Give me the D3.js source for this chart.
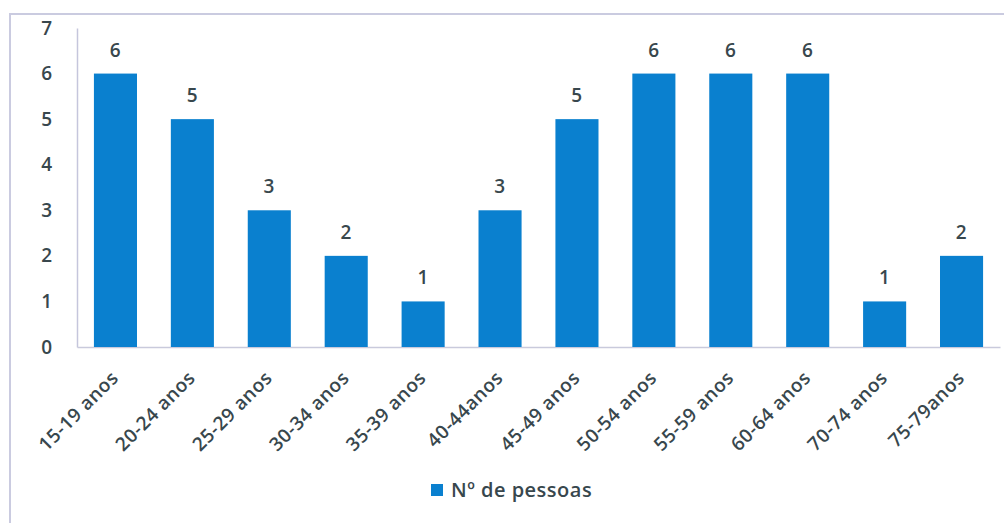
<!DOCTYPE html>
<html>
<head>
<meta charset="utf-8">
<script src="https://cdn.jsdelivr.net/npm/d3@7"></script>
<style>
  body { margin: 0; background: #fff; }
  text { font-family: "Open Sans", Lato, sans-serif; fill: #38474d; font-weight: 600; letter-spacing: 0.5px; }
</style>
</head>
<body>
<svg width="1004" height="523"></svg>
<script>
// faixas etarias e numero de pessoas em cada uma
var categories = ["15-19 anos", "20-24 anos", "25-29 anos", "30-34 anos", "35-39 anos", "40-44anos",
                  "45-49 anos", "50-54 anos", "55-59 anos", "60-64 anos", "70-74 anos", "75-79anos"];
var pessoas = [6, 5, 3, 2, 1, 3, 5, 6, 6, 6, 1, 2];
var yTicks = [0, 1, 2, 3, 4, 5, 6, 7];
var seriesName = "Nº de pessoas";

var svg = d3.select("svg"),
    margin = {top: 28, right: 4, bottom: 176, left: 77},
    width = +svg.attr("width") - margin.left - margin.right,
    height = +svg.attr("height") - margin.top - margin.bottom,
    x = d3.scaleBand().domain(categories).range([0, width]).paddingInner(0.44).paddingOuter(0.22),
    y = d3.scaleLinear().domain([0, 7]).range([height, 0]),
    g = svg.append("g").attr("transform", "translate(" + margin.left + "," + margin.top + ")");

// moldura clara a volta do grafico
svg.append("path")
    .attr("d", "M10,523 V14 H1004")
    .attr("fill", "none")
    .attr("stroke", "#cacbe0")
    .attr("stroke-width", 2);

// eixo y
var yAxis = g.append("g")
    .call(d3.axisLeft(y).tickValues(yTicks).tickFormat(d3.format("d")).tickSize(0).tickPadding(26));
yAxis.select(".domain").attr("stroke", "#c5c6dc").attr("stroke-width", 1.5);
yAxis.selectAll("text").style("font-size", "19px").attr("text-anchor", "middle").attr("dx", "-4");

// eixo x com etiquetas a 45 graus
var xAxis = g.append("g")
    .attr("transform", "translate(0," + height + ")")
    .call(d3.axisBottom(x).tickSize(0));
xAxis.select(".domain").attr("stroke", "#c9cadc").attr("stroke-width", 1.5);
xAxis.selectAll("text")
    .style("font-size", "19px")
    .attr("text-anchor", "end")
    .attr("dy", "0")
    .attr("transform", "translate(2,30) rotate(-45)");

// barras
g.selectAll(".bar")
  .data(pessoas)
  .enter()
    .append("rect")
    .attr("class", "bar")
    .attr("x", function(d, i) { return x(categories[i]); })
    .attr("y", function(d) { return y(d); })
    .attr("width", x.bandwidth())
    .attr("height", function(d) { return height - y(d); })
    .attr("fill", "#0a80cf");

// valores por cima das barras
g.selectAll(".lbl")
  .data(pessoas)
  .enter()
    .append("text")
    .attr("class", "lbl")
    .attr("x", function(d, i) { return x(categories[i]) + x.bandwidth() / 2; })
    .attr("y", function(d) { return y(d) - 17; })
    .attr("text-anchor", "middle")
    .style("font-size", "19px")
    .text(function(d) { return d; });

// legenda
var legend = svg.append("g").attr("transform", "translate(431,484)");
legend.append("rect").attr("width", 12).attr("height", 12).attr("fill", "#0a80cf");
legend.append("text")
    .attr("x", 20)
    .attr("y", 13)
    .style("font-size", "20px")
    .text(seriesName);
</script>
</body>
</html>
